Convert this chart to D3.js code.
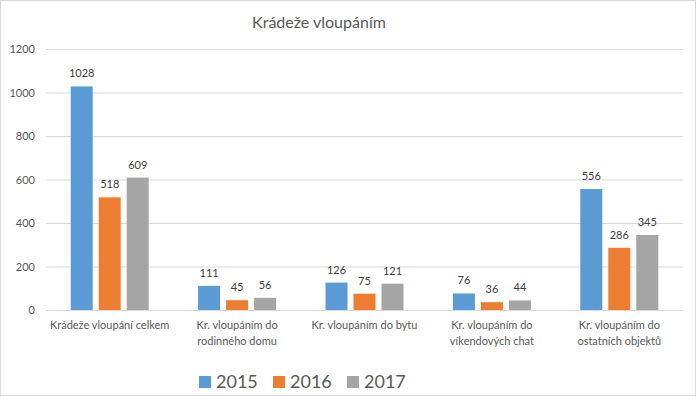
<!DOCTYPE html>
<html>
<head>
<meta charset="utf-8">
<script src="https://cdn.jsdelivr.net/npm/d3@7"></script>
<style>
  body { margin: 0; background: #fff; }
  text { font-family: Lato, "Open Sans", sans-serif; }
</style>
</head>
<body>
<svg width="696" height="396"></svg>
<script>
// --- Data ---
const categories = [
  ["Krádeže vloupání celkem"],
  ["Kr. vloupáním do", "rodinného domu"],
  ["Kr. vloupáním do bytu"],
  ["Kr. vloupáním do", "víkendových chat"],
  ["Kr. vloupáním do", "ostatních objektů"]
];
const years = ["2015", "2016", "2017"];
const values2015 = [1028, 111, 126, 76, 556];
const values2016 = [518, 45, 75, 36, 286];
const values2017 = [609, 56, 121, 44, 345];
const yTicks = [0, 200, 400, 600, 800, 1000, 1200];
const colors = ["#5b9bd5", "#ed7d31", "#a5a5a5"];

const series = [values2015, values2016, values2017];

// --- Setup ---
const svg = d3.select("svg");
const margin = { left: 46, right: 13, top: 49, bottom: 86 };
const width = 696, height = 396;

svg.append("rect")
  .attr("x", 0.5).attr("y", 0.5)
  .attr("width", width - 1).attr("height", height - 1)
  .attr("fill", "#fff").attr("stroke", "#d9d9d9");

const x = d3.scaleBand()
  .domain(d3.range(categories.length))
  .range([margin.left, width - margin.right]);

const y = d3.scaleLinear()
  .domain([0, 1200])
  .range([height - margin.bottom, margin.top]);

// --- Gridlines + y labels ---
svg.append("g").selectAll("line")
  .data(yTicks)
  .enter().append("line")
    .attr("x1", margin.left).attr("x2", width - margin.right)
    .attr("y1", d => y(d) + 0.5).attr("y2", d => y(d) + 0.5)
    .attr("stroke", "#d9d9d9").attr("stroke-width", 1);

svg.append("g").selectAll("text")
  .data(yTicks)
  .enter().append("text")
    .attr("x", 35).attr("y", d => y(d) + 4)
    .attr("text-anchor", "end")
    .attr("font-size", "11px")
    .attr("fill", "#595959")
    .text(d => d);

// --- Bars ---
const barW = 22, barGap = 6;
const groupW = barW * 3 + barGap * 2;

series.forEach((vals, si) => {
  const g = svg.append("g");
  const bx = i => x(i) + x.bandwidth() / 2 - groupW / 2 + si * (barW + barGap);
  g.selectAll("rect")
    .data(vals)
    .enter().append("rect")
      .attr("x", (d, i) => bx(i))
      .attr("y", d => y(d))
      .attr("width", barW)
      .attr("height", d => y(0) - y(d))
      .attr("fill", colors[si]);
  g.selectAll("text")
    .data(vals)
    .enter().append("text")
      .attr("x", (d, i) => bx(i) + barW / 2)
      .attr("y", d => y(d) - 9)
      .attr("text-anchor", "middle")
      .attr("font-size", "11px")
      .attr("fill", "#404040")
      .text(d => d);
});

// --- Category labels ---
const catG = svg.append("g");
categories.forEach((lines, i) => {
  const t = catG.append("text")
    .attr("x", x(i) + x.bandwidth() / 2)
    .attr("y", 329)
    .attr("text-anchor", "middle")
    .attr("font-size", "11px")
    .attr("fill", "#595959");
  lines.forEach((ln, li) => {
    t.append("tspan")
      .attr("x", x(i) + x.bandwidth() / 2)
      .attr("dy", li === 0 ? 0 : 16)
      .text(ln);
  });
});

// --- Title ---
svg.append("text")
  .attr("x", 319).attr("y", 28)
  .attr("text-anchor", "middle")
  .attr("font-size", "16px")
  .attr("fill", "#595959")
  .text("Krádeže vloupáním");

// --- Legend ---
const legendX = [199, 273, 347];
const legend = svg.append("g");
years.forEach((yr, i) => {
  legend.append("rect")
    .attr("x", legendX[i]).attr("y", 376)
    .attr("width", 12).attr("height", 12)
    .attr("fill", colors[i]);
  legend.append("text")
    .attr("x", legendX[i] + 17).attr("y", 388)
    .attr("font-size", "18px")
    .attr("fill", "#595959")
    .text(yr);
});
</script>
</body>
</html>
